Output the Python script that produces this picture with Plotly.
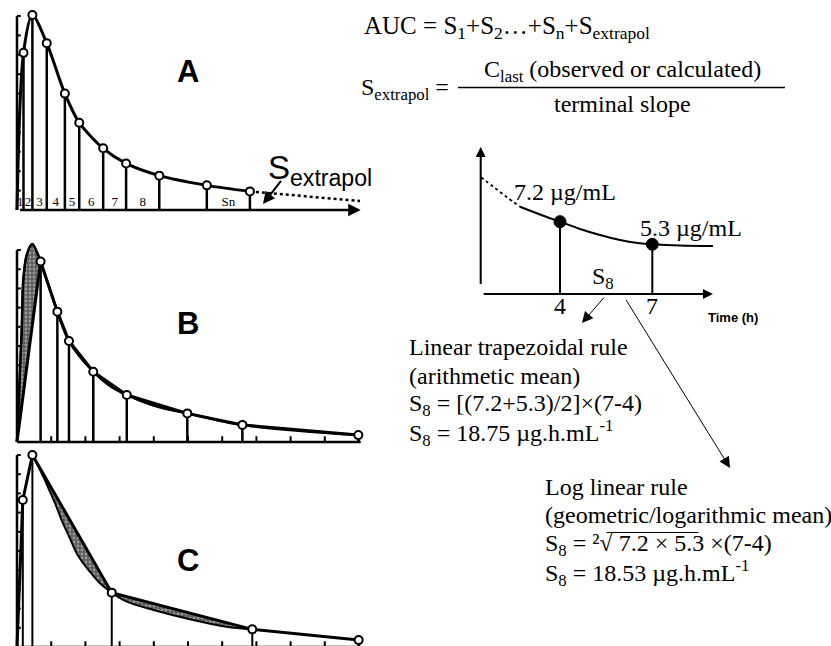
import plotly.graph_objects as go

W, H = 831, 646
SERIF = "Liberation Serif"
SANS = "Liberation Sans"

# ---------------- data ----------------
# Panel A: sampled concentration-time points (time h, conc arbitrary units)
A_t = [0.19, 0.45, 0.87, 1.40, 1.82, 2.52, 3.19, 4.16, 5.55, 6.81]
A_c = [8.1, 10.05, 8.6, 6.0, 4.5, 3.18, 2.4, 1.77, 1.27, 0.96]
A_labels = ["1", "2", "3", "4", "5", "6", "7", "8", "", "Sn"]
A_extrap_t = [6.81, 10.03]
A_extrap_c = [0.96, 0.46]

# Panel B: observed points and the underlying true curve
B_t = [0.69, 1.18, 1.52, 2.23, 3.21, 4.98, 6.59, 9.98]
B_c = [9.4, 6.79, 5.26, 3.66, 2.45, 1.49, 0.89, 0.36]
B_true_t = [0, 0.137, 0.184, 0.284, 0.447, 0.623, 0.69, 1.18, 1.52, 2.23, 2.7, 3.21, 4.0, 4.98, 6.59, 9.98]
B_true_c = [0, 5.83, 8.44, 9.74, 10.31, 9.72, 9.4, 6.79, 5.26, 3.66, 2.95, 2.45, 1.9, 1.49, 0.89, 0.36]
B_fill_segments = [(0, 6), (9, 11), (11, 13)]

# Panel C: observed points and the underlying true curve
C_t = [0.17, 0.45, 2.77, 6.88, 9.99]
C_c = [7.66, 10.0, 2.83, 0.92, 0.36]
C_true_t = [0, 0.17, 0.447, 0.722, 0.965, 1.161, 1.307, 1.55, 1.745, 1.939, 2.135, 2.427, 2.766,
            3.21, 3.99, 5.15, 6.13, 6.88, 9.99]
C_true_c = [0, 7.66, 10.0, 9.05, 8.09, 7.27, 6.60, 5.65, 4.88, 4.36, 3.92, 3.32, 2.83,
            2.36, 1.93, 1.41, 1.06, 0.92, 0.36]
C_fill_segments = [(2, 12), (12, 17)]

# Axis ticks for the three panels
Y_TICKS = [1, 2, 3, 4, 5, 6, 7, 8, 9, 10]
X_TICKS = [1, 2, 3, 4, 5, 6, 7, 8, 9, 10]

# Inset: two observed concentrations
I_t = [4, 7]
I_c = [7.2, 5.3]
I_labels = ["7.2 µg/mL", "5.3 µg/mL"]
I_tick_labels = ["4", "7"]
I_dot_t = [1.433, 1.832, 2.278, 2.70]
I_dot_c = [10.93, 10.14, 9.25, 8.46]
I_curve_t = [2.70, 3.35, 4.0, 4.65, 5.30, 5.95, 6.60, 7.0, 7.90, 8.97]
I_curve_c = [8.46, 7.81, 7.2, 6.59, 6.08, 5.66, 5.38, 5.30, 5.2, 5.16]
I_T0, I_C0 = 1.423, 1.124      # where inset axes cross
I_T_END, I_C_END = 8.97, 13.48  # arrow tips of inset axes

# ---------------- figure ----------------
fig = go.Figure()


def dom_x(a, b):
    return [a / W, b / W]


def dom_y(top, bottom):
    return [1 - bottom / H, 1 - top / H]


def P(x, y):
    return x / W, 1 - y / H


def line(xs, ys, sub, width=2.5, dash="solid", shape="linear", color="black", smoothing=1.0):
    xa, ya = sub
    fig.add_trace(go.Scatter(x=xs, y=ys, mode="lines", xaxis=xa, yaxis=ya,
                             line=dict(color=color, width=width, dash=dash, shape=shape,
                                       smoothing=smoothing),
                             showlegend=False, hoverinfo="skip"))


def markers(xs, ys, sub, size=8, fill="white", lw=2):
    xa, ya = sub
    fig.add_trace(go.Scatter(x=xs, y=ys, mode="markers", xaxis=xa, yaxis=ya,
                             marker=dict(size=size, color=fill, line=dict(color="black", width=lw)),
                             showlegend=False, hoverinfo="skip", cliponaxis=False))


def drops(ts, cs, sub, base=0.0, width=2.5):
    xs, ys = [], []
    for t, c in zip(ts, cs):
        xs += [t, t, None]
        ys += [base, c, None]
    line(xs, ys, sub, width=width)


def yticks(sub, ln=0.11):
    xs, ys = [], []
    for k in Y_TICKS:
        xs += [0, ln, None]
        ys += [k, k, None]
    line(xs, ys, sub, width=2)


def xticks(sub, ln=0.3):
    xs, ys = [], []
    for k in X_TICKS:
        xs += [k, k, None]
        ys += [0, ln, None]
    line(xs, ys, sub, width=2)


def shaded(ts, cs, sub):
    xa, ya = sub
    fig.add_trace(go.Scatter(x=ts, y=cs, mode="lines", xaxis=xa, yaxis=ya, fill="toself",
                             fillcolor="#707070",
                             fillpattern=dict(shape=".", bgcolor="#5a5a5a", fgcolor="#d8d8d8",
                                              size=4, solidity=0.4),
                             line=dict(color="black", width=2, shape="spline", smoothing=0.9),
                             showlegend=False, hoverinfo="skip"))


SA, SB, SC, SI = ("x", "y"), ("x2", "y2"), ("x3", "y3"), ("x4", "y4")

# ----- Panel A -----
line([0, 0], [0, 10], SA, width=2.5)
yticks(SA)
drops(A_t, A_c, SA, width=2.5)
line([0] + A_t, [0] + A_c, SA, width=3, shape="spline", smoothing=0.8)
line(A_extrap_t, A_extrap_c, SA, width=2.5, dash="dot")
markers(A_t, A_c, SA)
mid = [((([0] + A_t)[i] + A_t[i]) / 2) for i in range(len(A_t))]
fig.add_trace(go.Scatter(x=mid, y=[0.38] * len(mid), mode="text", text=A_labels,
                         xaxis="x", yaxis="y", textfont=dict(family=SERIF, size=13, color="black"),
                         showlegend=False, hoverinfo="skip"))

# ----- Panel B -----
line([0, 0], [0, 10], SB, width=2.5)
line([0, 10.05], [0, 0], SB, width=2.5)
yticks(SB)
xticks(SB)
drops(B_t, B_c, SB, width=2.5)
for a, b in B_fill_segments:
    shaded(B_true_t[a:b + 1], B_true_c[a:b + 1], SB)
line(B_true_t, B_true_c, SB, width=2.5, shape="spline", smoothing=0.9)
line([0] + B_t, [0] + B_c, SB, width=3)
markers(B_t, B_c, SB)

# ----- Panel C -----
line([0, 0], [0, 10], SC, width=2.5)
line([0, 10.05], [0, 0], SC, width=2.5)
yticks(SC)
xticks(SC)
drops(C_t, C_c, SC, width=2)
for a, b in C_fill_segments:
    shaded(C_true_t[a:b + 1], C_true_c[a:b + 1], SC)
line([0] + C_t, [0] + C_c, SC, width=3)
markers(C_t, C_c, SC)

# ----- Inset -----
drops(I_t, I_c, SI, base=I_C0, width=2)
line(I_dot_t, I_dot_c, SI, width=1.8, dash="dot", shape="spline")
line(I_curve_t, I_curve_c, SI, width=2, shape="spline")
markers(I_t, I_c, SI, size=12, fill="black", lw=1)

# ---------------- annotations ----------------
ann = []


def text(x, y, s, size=24, family=SERIF, xanchor="left", yanchor="middle"):
    px_, py_ = P(x, y)
    ann.append(dict(x=px_, y=py_, xref="paper", yref="paper", text=s, showarrow=False,
                    xanchor=xanchor, yanchor=yanchor,
                    font=dict(family=family, size=size, color="black")))


def arrow_paper(tx, ty, fx, fy, width=1, size=2.0, head=2):
    px_, py_ = P(tx, ty)
    ann.append(dict(x=px_, y=py_, xref="paper", yref="paper", ax=fx - tx, ay=fy - ty,
                    showarrow=True, arrowhead=head, arrowwidth=width, arrowsize=size,
                    arrowcolor="black", standoff=0, text=" "))


# axis arrows
ann.append(dict(x=10.05, y=0, xref="x", yref="y", ax=0, ay=0, axref="x", ayref="y",
                showarrow=True, arrowhead=2, arrowwidth=2.5, arrowsize=1, arrowcolor="black",
                standoff=0, text=" "))
ann.append(dict(x=I_T0, y=I_C_END, xref="x4", yref="y4", ax=I_T0, ay=I_C0, axref="x4", ayref="y4",
                showarrow=True, arrowhead=2, arrowwidth=2, arrowsize=1, arrowcolor="black",
                standoff=0, text=" "))
ann.append(dict(x=I_T_END, y=I_C0, xref="x4", yref="y4", ax=I_T0, ay=I_C0, axref="x4", ayref="y4",
                showarrow=True, arrowhead=2, arrowwidth=2, arrowsize=1, arrowcolor="black",
                standoff=0, text=" "))

# panel letters
text(188, 72, "<b>A</b>", size=31, family=SANS, xanchor="center")
text(188, 323, "<b>B</b>", size=31, family=SANS, xanchor="center")
text(188, 560, "<b>C</b>", size=31, family=SANS, xanchor="center")

# S extrapol
text(266, 170, "S<sub>extrapol</sub>", size=33, family=SANS)
arrow_paper(263, 204, 284, 177, width=2, size=1.2)

# formulas top right
text(362, 27, "AUC = S<sub>1</sub>+S<sub>2</sub>…+S<sub>n</sub>+S<sub>extrapol</sub>", size=25)
text(359, 89, "S<sub>extrapol</sub> =")
text(622, 71, "C<sub>last</sub> (observed or calculated)", xanchor="center")
text(622, 104, "terminal slope", xanchor="center")

# inset texts
text(512, 192, I_labels[0])
text(638, 228, I_labels[1])
text(590, 278, "S<sub>8</sub>")
for t, s in zip(I_t, I_tick_labels):
    ann.append(dict(x=t, y=1 - 306 / H, xref="x4", yref="paper", text=s, showarrow=False,
                    xanchor="center", yanchor="middle",
                    font=dict(family=SERIF, size=24, color="black")))
text(733, 317, "<b>Time (h)</b>", size=13, family=SANS, xanchor="center")

# pointer arrows
arrow_paper(582, 323, 607, 294, width=1, size=2.2)
arrow_paper(730, 468, 623, 295, width=1, size=2.2)

# rule texts
text(407, 347, "Linear trapezoidal rule")
text(407, 376, "(arithmetic mean)")
text(407, 405, "S<sub>8</sub> = [(7.2+5.3)/2]×(7-4)")
text(407, 433, "S<sub>8</sub> = 18.75 µg.h.mL<sup>-1</sup>")
text(543, 487, "Log linear rule")
text(543, 515, "(geometric/logarithmic mean)")
text(543, 545, "S<sub>8</sub> = ²√ 7.2 × 5.3 ×(7-4)")
text(543, 573, "S<sub>8</sub> = 18.53 µg.h.mL<sup>-1</sup>")

shapes = []
x0, y0 = P(458, 87.5)
x1, _ = P(785, 87.5)
shapes.append(dict(type="line", xref="paper", yref="paper", x0=x0, x1=x1, y0=y0, y1=y0,
                   line=dict(color="black", width=1.3)))
x0, y0 = P(606.5, 532.5)
x1, _ = P(698.5, 532.5)
shapes.append(dict(type="line", xref="paper", yref="paper", x0=x0, x1=x1, y0=y0, y1=y0,
                   line=dict(color="black", width=1)))

ax_common = dict(visible=False, fixedrange=True)
fig.update_layout(
    width=W, height=H, autosize=False,
    margin=dict(l=0, r=0, t=0, b=0, pad=0),
    paper_bgcolor="white", plot_bgcolor="white",
    showlegend=False,
    xaxis=dict(domain=dom_x(0, 380), range=[-17 / 34.2, 363 / 34.2], anchor="y", **ax_common),
    yaxis=dict(domain=dom_y(0, 215), range=[-5 / 19.4, 210 / 19.4], anchor="x", **ax_common),
    xaxis2=dict(domain=dom_x(0, 380), range=[-17 / 34.2, 363 / 34.2], anchor="y2", **ax_common),
    yaxis2=dict(domain=dom_y(215, 448), range=[-6 / 19.2, 227 / 19.2], anchor="x2", **ax_common),
    xaxis3=dict(domain=dom_x(0, 380), range=[-17 / 34.2, 363 / 34.2], anchor="y3", **ax_common),
    yaxis3=dict(domain=dom_y(448, 646), range=[1 / 19.2, 199 / 19.2], anchor="x3", **ax_common),
    xaxis4=dict(domain=dom_x(470, 730), range=[4 - 90 / 30.77, 4 + 170 / 30.77], anchor="y4", **ax_common),
    yaxis4=dict(domain=dom_y(140, 300), range=[7.2 - 78.3 / 11.9, 7.2 + 81.7 / 11.9], anchor="x4", **ax_common),
    annotations=ann,
    shapes=shapes,
)

fig.write_html("out.html")
